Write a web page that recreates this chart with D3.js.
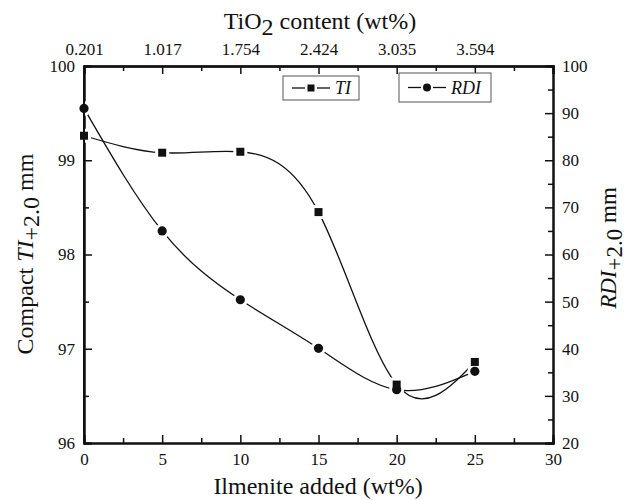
<!DOCTYPE html>
<html>
<head>
<meta charset="utf-8">
<script src="https://cdn.jsdelivr.net/npm/d3@7"></script>
<style>
  body { margin: 0; background: #fff; }
</style>
</head>
<body>
<div id="chart"></div>
<script>
// data
const ilmenite = [0, 5, 10, 15, 20, 25];
const tiValues = [99.26, 99.08, 99.09, 98.45, 96.62, 96.86];
const rdiValues = [91.0, 65.0, 50.4, 40.1, 31.3, 35.2];
const tio2Labels = ["0.201", "1.017", "1.754", "2.424", "3.035", "3.594"];
const xTicks = [0, 5, 10, 15, 20, 25, 30];
const leftTicks = [96, 97, 98, 99, 100];
const rightTicks = [20, 30, 40, 50, 60, 70, 80, 90, 100];

const width = 627, height = 500;
const margin = { top: 66, right: 74, bottom: 57, left: 84 };
const serif = "Liberation Serif";

const svg = d3.select("#chart").append("svg")
    .attr("width", width)
    .attr("height", height)
    .style("display", "block")
    .attr("font-family", serif);

const x = d3.scaleLinear().domain([0, 30]).range([margin.left, width - margin.right]);
const yL = d3.scaleLinear().domain([96, 100]).range([height - margin.bottom, margin.top]);
const yR = d3.scaleLinear().domain([20, 100]).range([height - margin.bottom, margin.top]);

// ---- axes (ticks point inward) ----
function styleAxis(g) {
    g.attr("font-family", serif).attr("font-size", 17);
    g.select(".domain").attr("stroke", "#111").attr("stroke-width", 2);
    g.selectAll(".tick line").attr("stroke", "#111").attr("stroke-width", 1.5);
    g.selectAll(".tick text").attr("fill", "#111");
}

// minor ticks
svg.append("g")
    .attr("transform", `translate(0,${height - margin.bottom})`)
    .call(d3.axisBottom(x).tickValues(d3.range(2.5, 30, 5)).tickSize(-5).tickFormat(""))
    .call(styleAxis);
svg.append("g")
    .attr("transform", `translate(0,${margin.top})`)
    .call(d3.axisTop(x).tickValues(d3.range(2.5, 30, 5)).tickSize(-5).tickFormat(""))
    .call(styleAxis);
svg.append("g")
    .attr("transform", `translate(${margin.left},0)`)
    .call(d3.axisLeft(yL).tickValues(d3.range(96.5, 100, 1)).tickSize(-5).tickFormat(""))
    .call(styleAxis);
svg.append("g")
    .attr("transform", `translate(${width - margin.right},0)`)
    .call(d3.axisRight(yR).tickValues(d3.range(25, 100, 10)).tickSize(-5).tickFormat(""))
    .call(styleAxis);

// bottom
svg.append("g")
    .attr("transform", `translate(0,${height - margin.bottom})`)
    .call(d3.axisBottom(x).tickValues(xTicks).tickSize(-8).tickPadding(9).tickFormat(d3.format("d")))
    .call(styleAxis)
    .call(g => g.selectAll(".tick text").attr("dy", "0.75em"));

// top (TiO2 content)
svg.append("g")
    .attr("transform", `translate(0,${margin.top})`)
    .call(d3.axisTop(x).tickValues(ilmenite).tickSize(-8).tickPadding(11)
        .tickFormat((d, i) => tio2Labels[i]))
    .call(styleAxis);
svg.append("g")
    .attr("transform", `translate(0,${margin.top})`)
    .call(d3.axisTop(x).tickValues([30]).tickSize(-8).tickFormat(""))
    .call(styleAxis);

// left
svg.append("g")
    .attr("transform", `translate(${margin.left},0)`)
    .call(d3.axisLeft(yL).tickValues(leftTicks).tickSize(-8).tickPadding(9).tickFormat(d3.format("d")))
    .call(styleAxis);

// right
svg.append("g")
    .attr("transform", `translate(${width - margin.right},0)`)
    .call(d3.axisRight(yR).tickValues(rightTicks).tickSize(-8).tickPadding(9).tickFormat(d3.format("d")))
    .call(styleAxis);

// ---- axis titles ----
const titleSize = 24;

svg.append("text")
    .attr("x", 318)
    .attr("y", 494)
    .attr("text-anchor", "middle")
    .attr("font-size", titleSize)
    .attr("fill", "#111")
    .text("Ilmenite added (wt%)");

const topTitle = svg.append("text")
    .attr("x", 320)
    .attr("y", 29)
    .attr("text-anchor", "middle")
    .attr("font-size", titleSize)
    .attr("fill", "#111");
topTitle.append("tspan").text("TiO");
topTitle.append("tspan").attr("dy", 6).text("2");
topTitle.append("tspan").attr("dy", -6).text(" content (wt%)");

const leftTitle = svg.append("text")
    .attr("transform", `translate(33,254) rotate(-90)`)
    .attr("text-anchor", "middle")
    .attr("font-size", titleSize)
    .attr("fill", "#111");
leftTitle.append("tspan").text("Compact ");
leftTitle.append("tspan").attr("font-style", "italic").text("TI");
leftTitle.append("tspan").attr("dy", 6).text("+2.0");
leftTitle.append("tspan").attr("dy", -6).text(" mm");

const rightTitle = svg.append("text")
    .attr("transform", `translate(616,248) rotate(-90)`)
    .attr("text-anchor", "middle")
    .attr("font-size", 23)
    .attr("fill", "#111");
rightTitle.append("tspan").attr("font-style", "italic").text("RDI");
rightTitle.append("tspan").attr("dy", 6).text("+2.0");
rightTitle.append("tspan").attr("dy", -6).text(" mm");

// ---- series ----
const tiData = ilmenite.map((v, i) => ({ x: v, y: tiValues[i] }));
const rdiData = ilmenite.map((v, i) => ({ x: v, y: rdiValues[i] }));

const plot = svg.append("g");

plot.append("path")
    .datum(tiData)
    .attr("fill", "none")
    .attr("stroke", "#111")
    .attr("stroke-width", 1.3)
    .attr("d", d3.line().x(d => x(d.x)).y(d => yL(d.y)).curve(d3.curveNatural));

plot.append("path")
    .datum(rdiData)
    .attr("fill", "none")
    .attr("stroke", "#111")
    .attr("stroke-width", 1.3)
    .attr("d", d3.line().x(d => x(d.x)).y(d => yR(d.y)).curve(d3.curveNatural));

// white halos so the curve breaks around each marker
plot.selectAll(".halo-ti")
    .data(tiData)
    .join("rect")
    .attr("x", d => x(d.x) - 7)
    .attr("y", d => yL(d.y) - 7)
    .attr("width", 14)
    .attr("height", 14)
    .attr("fill", "#fff");
plot.selectAll(".halo-rdi")
    .data(rdiData)
    .join("circle")
    .attr("cx", d => x(d.x))
    .attr("cy", d => yR(d.y))
    .attr("r", 7.5)
    .attr("fill", "#fff");

plot.selectAll(".sq")
    .data(tiData)
    .join("rect")
    .attr("x", d => x(d.x) - 4)
    .attr("y", d => yL(d.y) - 4)
    .attr("width", 8)
    .attr("height", 8)
    .attr("fill", "#111");
plot.selectAll(".dot")
    .data(rdiData)
    .join("circle")
    .attr("cx", d => x(d.x))
    .attr("cy", d => yR(d.y))
    .attr("r", 4.6)
    .attr("fill", "#111");

// redraw the left axis line over the x=0 halos
svg.append("line")
    .attr("x1", margin.left).attr("x2", margin.left)
    .attr("y1", margin.top).attr("y2", height - margin.bottom)
    .attr("stroke", "#111").attr("stroke-width", 2);

// ---- legends ----
function legendBox(x0, y0, w, h, label, shape) {
    const g = svg.append("g").attr("transform", `translate(${x0},${y0})`);
    g.append("rect").attr("width", w).attr("height", h)
        .attr("fill", "#fff").attr("stroke", "#555").attr("stroke-width", 1);
    const cy = h / 2;
    g.append("line").attr("x1", 9).attr("x2", 22).attr("y1", cy).attr("y2", cy)
        .attr("stroke", "#111").attr("stroke-width", 1.3);
    g.append("line").attr("x1", 34).attr("x2", 47).attr("y1", cy).attr("y2", cy)
        .attr("stroke", "#111").attr("stroke-width", 1.3);
    if (shape === "square") {
        g.append("rect").attr("x", 24.5).attr("y", cy - 3.5).attr("width", 7).attr("height", 7).attr("fill", "#111");
    } else {
        g.append("circle").attr("cx", 28).attr("cy", cy).attr("r", 4).attr("fill", "#111");
    }
    g.append("text").attr("x", 52).attr("y", cy + 6)
        .attr("font-size", 18).attr("font-style", "italic")
        .attr("fill", "#111").text(label);
}
legendBox(283, 76, 76, 24, "TI", "square");
legendBox(399, 73, 92, 29, "RDI", "circle");
</script>
</body>
</html>
